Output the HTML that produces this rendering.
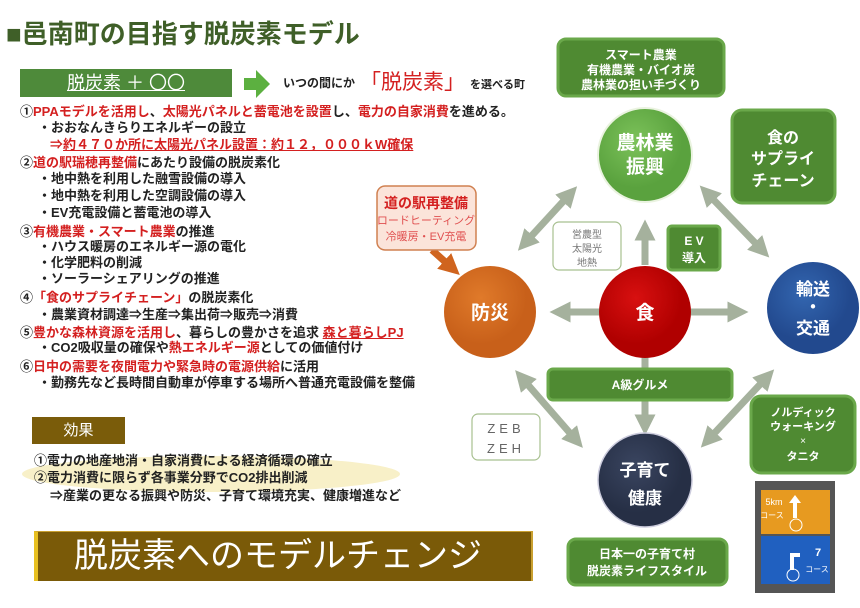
<!DOCTYPE html>
<html><head><meta charset="utf-8"><style>
body{margin:0;width:860px;height:608px;background:#fff;position:relative;overflow:hidden;font-family:"Liberation Sans","Noto Sans CJK JP",sans-serif;}
.a{position:absolute;white-space:nowrap;}
.t{font-size:13px;font-weight:bold;color:#222;line-height:16px;}
.r{color:#d42020;}
</style></head><body>
<div class="a" style="left:6px;top:14px;font-size:26px;font-weight:bold;color:#3f5f28;">■邑南町の目指す脱炭素モデル</div>
<div class="a" style="left:20px;top:69px;width:212px;height:28px;background:#4e8a3a;color:#fff;font-size:18px;line-height:28px;text-align:center;"><span style="text-decoration:underline;">脱炭素 ＋ 〇〇</span></div>
<svg class="a" style="left:244px;top:70px" width="26" height="28"><polygon points="0,8 12,8 12,0 26,14 12,28 12,20 0,20" fill="#5cb040"/></svg>
<div class="a" style="left:283px;top:74px;font-size:12px;font-weight:bold;color:#222;">いつの間にか</div>
<div class="a" style="left:360px;top:66px;font-size:21px;color:#d42020;">「脱炭素」</div>
<div class="a" style="left:470px;top:76px;font-size:11px;font-weight:bold;color:#222;">を選べる町</div>

<div class="a t" style="left:20px;top:104px;">①<span class="r">PPAモデルを活用し</span>、<span class="r">太陽光パネルと蓄電池を設置</span>し、<span class="r">電力の自家消費</span>を進める。</div>
<div class="a t" style="left:38px;top:120px;">・おおなんきらりエネルギーの設立</div>
<div class="a t r" style="left:50px;top:137px;">⇒<u>約４７０か所に太陽光パネル設置：約１２，０００ｋW確保</u></div>
<div class="a t" style="left:20px;top:155px;">②<span class="r">道の駅瑞穂再整備</span>にあたり設備の脱炭素化</div>
<div class="a t" style="left:38px;top:171px;">・地中熱を利用した融雪設備の導入</div>
<div class="a t" style="left:38px;top:188px;">・地中熱を利用した空調設備の導入</div>
<div class="a t" style="left:38px;top:205px;">・EV充電設備と蓄電池の導入</div>
<div class="a t" style="left:20px;top:224px;">③<span class="r">有機農業・スマート農業</span>の推進</div>
<div class="a t" style="left:38px;top:239px;">・ハウス暖房のエネルギー源の電化</div>
<div class="a t" style="left:38px;top:255px;">・化学肥料の削減</div>
<div class="a t" style="left:38px;top:271px;">・ソーラーシェアリングの推進</div>
<div class="a t" style="left:20px;top:290px;">④<span class="r">「食のサプライチェーン」</span>の脱炭素化</div>
<div class="a t" style="left:38px;top:307px;">・農業資材調達⇒生産⇒集出荷⇒販売⇒消費</div>
<div class="a t" style="left:20px;top:325px;">⑤<span class="r">豊かな森林資源を活用し</span>、暮らしの豊かさを追求 <span class="r"><u>森と暮らしPJ</u></span></div>
<div class="a t" style="left:38px;top:340px;">・CO2吸収量の確保や<span class="r">熱エネルギー源</span>としての価値付け</div>
<div class="a t" style="left:20px;top:359px;">⑥<span class="r">日中の需要を夜間電力や緊急時の電源供給</span>に活用</div>
<div class="a t" style="left:38px;top:375px;">・勤務先など長時間自動車が停車する場所へ普通充電設備を整備</div>

<div class="a" style="left:32px;top:417px;width:93px;height:27px;background:#7a5c0a;color:#fff;font-size:15px;line-height:27px;text-align:center;">効果</div>
<div class="a" style="left:22px;top:456px;width:378px;height:36px;border-radius:50%;background:#f8f0c8;"></div>
<div class="a t" style="left:34px;top:453px;">①電力の地産地消・自家消費による経済循環の確立</div>
<div class="a t" style="left:34px;top:470px;">②電力消費に限らず各事業分野でCO2排出削減</div>
<div class="a t" style="left:50px;top:488px;">⇒産業の更なる振興や防災、子育て環境充実、健康増進など</div>
<div class="a" style="left:34px;top:531px;width:499px;height:50px;background:#7a5a08;border-left:4px solid #e8c020;border-top:1px solid #c9a030;border-right:2px solid #c9a030;color:#fff;font-size:34px;line-height:48px;padding-left:36px;box-sizing:border-box;">脱炭素へのモデルチェンジ</div>

<svg class="a" style="left:0;top:0" width="860" height="608">
<defs>
<marker id="ah" markerWidth="3" markerHeight="3" refX="1.5" refY="1.5" orient="auto"><polygon points="0,0 3,1.5 0,3" fill="#a5b19d"/></marker>
<marker id="as" markerWidth="3" markerHeight="3" refX="1.5" refY="1.5" orient="auto-start-reverse"><polygon points="0,0 3,1.5 0,3" fill="#a5b19d"/></marker>
<marker id="ao" markerWidth="3" markerHeight="3" refX="1.5" refY="1.5" orient="auto"><polygon points="0,0 3,1.5 0,3" fill="#d0641e"/></marker>
<radialGradient id="gg" cx="40%" cy="35%"><stop offset="0" stop-color="#7cc25a"/><stop offset="1" stop-color="#5aa23e"/></radialGradient>
<radialGradient id="go" cx="40%" cy="35%"><stop offset="0" stop-color="#e07a2a"/><stop offset="1" stop-color="#c8601a"/></radialGradient>
<radialGradient id="gr" cx="40%" cy="35%"><stop offset="0" stop-color="#d81010"/><stop offset="1" stop-color="#b00000"/></radialGradient>
<radialGradient id="gb" cx="40%" cy="35%"><stop offset="0" stop-color="#3366b0"/><stop offset="1" stop-color="#22498e"/></radialGradient>
<radialGradient id="gn" cx="40%" cy="35%"><stop offset="0" stop-color="#3a4560"/><stop offset="1" stop-color="#262f45"/></radialGradient>
</defs>
<g stroke="#a5b19d" stroke-width="7" fill="none">
<line x1="525" y1="243" x2="570" y2="194" marker-start="url(#as)" marker-end="url(#as)"/>
<line x1="707" y1="193" x2="762" y2="250" marker-start="url(#as)" marker-end="url(#as)"/>
<line x1="522" y1="378" x2="576" y2="440" marker-start="url(#as)" marker-end="url(#as)"/>
<line x1="767" y1="377" x2="708" y2="440" marker-start="url(#as)" marker-end="url(#as)"/>
<line x1="645" y1="265" x2="645" y2="230" marker-end="url(#ah)"/>
<line x1="600" y1="312" x2="560" y2="312" marker-end="url(#ah)"/>
<line x1="690" y1="312" x2="738" y2="312" marker-end="url(#ah)"/>
<line x1="645" y1="400" x2="645" y2="425" marker-end="url(#ah)"/>
</g>
<line x1="432" y1="250" x2="452" y2="268" stroke="#d0641e" stroke-width="7" marker-end="url(#ao)"/>
<line x1="645" y1="355" x2="645" y2="372" stroke="#a5b19d" stroke-width="7"/>
<circle cx="645" cy="155" r="47" fill="url(#gg)" stroke="#eaf3e0" stroke-width="2"/>
<circle cx="490" cy="312" r="46" fill="url(#go)"/>
<circle cx="645" cy="312" r="46" fill="url(#gr)"/>
<circle cx="813" cy="308" r="46" fill="url(#gb)"/>
<circle cx="645" cy="480" r="47" fill="url(#gn)" stroke="#ccd" stroke-width="1.5"/>
<g font-family="Liberation Sans,Noto Sans CJK JP,sans-serif" fill="#fff" text-anchor="middle">
<text x="645" y="149" font-size="19" font-weight="bold">農林業</text>
<text x="645" y="173" font-size="19" font-weight="bold">振興</text>
<text x="490" y="319" font-size="19" font-weight="bold">防災</text>
<text x="645" y="319" font-size="19" font-weight="bold">食</text>
<text x="813" y="295" font-size="17" font-weight="bold">輸送</text>
<text x="813" y="313" font-size="17" font-weight="bold">・</text>
<text x="813" y="334" font-size="17" font-weight="bold">交通</text>
<text x="645" y="476" font-size="17" font-weight="bold">子育て</text>
<text x="645" y="504" font-size="17" font-weight="bold">健康</text>
</g>
<g font-family="Liberation Sans,Noto Sans CJK JP,sans-serif" text-anchor="middle">
<rect x="558" y="39" width="166" height="57" rx="8" fill="#4f8a32" stroke="#6aa84a" stroke-width="3"/>
<text x="641" y="59" font-size="12" font-weight="bold" fill="#fff">スマート農業</text>
<text x="641" y="74" font-size="12" font-weight="bold" fill="#fff">有機農業・バイオ炭</text>
<text x="641" y="89" font-size="12" font-weight="bold" fill="#fff">農林業の担い手づくり</text>
<rect x="732" y="110" width="103" height="93" rx="10" fill="#4f8a32" stroke="#6aa84a" stroke-width="3"/>
<text x="783" y="143" font-size="16" font-weight="bold" fill="#fff">食の</text>
<text x="783" y="164" font-size="16" font-weight="bold" fill="#fff">サプライ</text>
<text x="783" y="186" font-size="16" font-weight="bold" fill="#fff">チェーン</text>
<rect x="377" y="186" width="99" height="64" rx="8" fill="#fbe4da" stroke="#d08050" stroke-width="1.5"/>
<text x="426" y="208" font-size="14" font-weight="bold" fill="#d42020">道の駅再整備</text>
<text x="426" y="224" font-size="11" fill="#e05050">ロードヒーティング</text>
<text x="426" y="240" font-size="11" fill="#e05050">冷暖房・EV充電</text>
<rect x="553" y="222" width="68" height="48" rx="6" fill="#fff" stroke="#a8c090" stroke-width="1.2"/>
<text x="587" y="238" font-size="10" fill="#777">営農型</text>
<text x="587" y="252" font-size="10" fill="#777">太陽光</text>
<text x="587" y="266" font-size="10" fill="#777">地熱</text>
<rect x="668" y="226" width="52" height="44" rx="4" fill="#4f8a32" stroke="#6aa84a" stroke-width="3"/>
<text x="694" y="245" font-size="12" font-weight="bold" fill="#fff">E V</text>
<text x="694" y="262" font-size="12" font-weight="bold" fill="#fff">導入</text>
<rect x="548" y="369" width="184" height="31" rx="5" fill="#4f8a32" stroke="#6aa84a" stroke-width="3"/>
<text x="640" y="389" font-size="12" font-weight="bold" fill="#fff">A級グルメ</text>
<rect x="472" y="414" width="68" height="46" rx="6" fill="#fff" stroke="#a8c090" stroke-width="1.2"/>
<text x="506" y="433" font-size="13" fill="#666" letter-spacing="4">ZEB</text>
<text x="506" y="453" font-size="13" fill="#666" letter-spacing="4">ZEH</text>
<rect x="751" y="396" width="104" height="77" rx="10" fill="#4f8a32" stroke="#6aa84a" stroke-width="3"/>
<text x="803" y="416" font-size="11" font-weight="bold" fill="#fff">ノルディック</text>
<text x="803" y="430" font-size="11" font-weight="bold" fill="#fff">ウォーキング</text>
<text x="803" y="444" font-size="10" fill="#fff">×</text>
<text x="803" y="460" font-size="11" font-weight="bold" fill="#fff">タニタ</text>
<rect x="568" y="539" width="159" height="46" rx="8" fill="#4f8a32" stroke="#6aa84a" stroke-width="3"/>
<text x="647" y="558" font-size="12" font-weight="bold" fill="#fff">日本一の子育て村</text>
<text x="647" y="575" font-size="12" font-weight="bold" fill="#fff">脱炭素ライフスタイル</text>
<rect x="755" y="481" width="80" height="112" fill="#555"/>
<rect x="761" y="490" width="69" height="44" fill="#e79a20"/>
<rect x="761" y="536" width="69" height="48" fill="#2060c0"/>
<text x="774" y="505" font-size="9" fill="#fff">5km</text>
<text x="772" y="518" font-size="8" fill="#fff">コース</text>
<polygon points="795,495 801,503 797,503 797,518 793,518 793,503 789,503" fill="#fff"/>
<circle cx="796" cy="525" r="6" fill="none" stroke="#fff"/>
<path d="M792 570 V555 H800" stroke="#fff" stroke-width="4" fill="none"/>
<circle cx="793" cy="575" r="6" fill="none" stroke="#fff"/>
<text x="818" y="556" font-size="11" font-weight="bold" fill="#fff">7</text>
<text x="817" y="572" font-size="8" fill="#fff">コース</text>
</g>
</svg>
</body></html>
